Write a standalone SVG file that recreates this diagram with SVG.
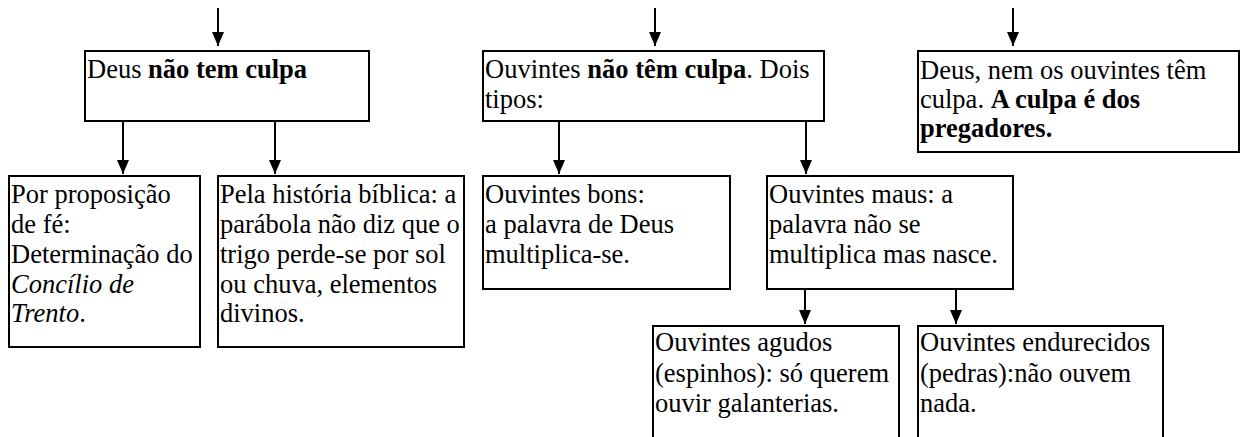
<svg xmlns="http://www.w3.org/2000/svg" width="1241" height="437" viewBox="0 0 1241 437">
<style>
  .box { fill: #fff; stroke: #000; stroke-width: 2; }
  .t { font-family: "Liberation Serif", serif; font-size: 26.5px; fill: #000; }
  .b { font-weight: bold; }
  .i { font-style: italic; }
  .c { stroke: #000; stroke-width: 2; fill: none; marker-end: url(#ah); }
</style>
<defs>
  <marker id="ah" viewBox="0 0 14 12" refX="14" refY="6" markerWidth="14" markerHeight="12" markerUnits="userSpaceOnUse" orient="auto">
    <path d="M0,0 L14,6 L0,12 z" fill="#000"/>
  </marker>
</defs>
<g id="connectors">
  <line class="c" x1="218" y1="8" x2="218" y2="46"/>
  <line class="c" x1="655" y1="8" x2="655" y2="46"/>
  <line class="c" x1="1013" y1="8" x2="1013" y2="46"/>
  <line class="c" x1="123" y1="121" x2="123" y2="174"/>
  <line class="c" x1="275" y1="121" x2="275" y2="174"/>
  <line class="c" x1="559" y1="121" x2="559" y2="174"/>
  <line class="c" x1="806" y1="121" x2="806" y2="174"/>
  <line class="c" x1="805" y1="289" x2="805" y2="324"/>
  <line class="c" x1="956" y1="289" x2="956" y2="324"/>
</g>
<g id="n-deus" font-family="Liberation Serif, serif">
  <rect class="box" x="85" y="51" width="284" height="70"/>
  <text class="t" x="87" y="78">Deus <tspan class="b">não tem culpa</tspan></text>
</g>
<g id="n-ouvintes" font-family="Liberation Serif, serif">
  <rect class="box" x="483" y="51" width="341" height="70"/>
  <text class="t" x="485" y="78">Ouvintes <tspan class="b">não têm culpa</tspan>. Dois</text>
  <text class="t" x="485" y="108">tipos:</text>
</g>
<g id="n-pregadores" font-family="Liberation Serif, serif">
  <rect class="box" x="918" y="51" width="321" height="101"/>
  <text class="t" x="920" y="79">Deus, nem os ouvintes têm</text>
  <text class="t" x="920" y="108">culpa. <tspan class="b">A culpa é dos</tspan></text>
  <text class="t b" x="920" y="137">pregadores.</text>
</g>
<g id="n-fe" font-family="Liberation Serif, serif">
  <rect class="box" x="9" y="176" width="191" height="171"/>
  <text class="t" x="11" y="203">Por proposição</text>
  <text class="t" x="11" y="233">de fé:</text>
  <text class="t" x="11" y="263">Determinação do</text>
  <text class="t i" x="11" y="292.5">Concílio de</text>
  <text class="t" x="11" y="322"><tspan class="i">Trento</tspan>.</text>
</g>
<g id="n-biblica" font-family="Liberation Serif, serif">
  <rect class="box" x="218" y="176" width="246" height="171"/>
  <text class="t" x="220" y="203">Pela história bíblica: a</text>
  <text class="t" x="220" y="233">parábola não diz que o</text>
  <text class="t" x="220" y="263">trigo perde-se por sol</text>
  <text class="t" x="220" y="292.5">ou chuva, elementos</text>
  <text class="t" x="220" y="322">divinos.</text>
</g>
<g id="n-bons" font-family="Liberation Serif, serif">
  <rect class="box" x="483" y="176" width="247" height="113"/>
  <text class="t" x="485" y="203">Ouvintes bons:</text>
  <text class="t" x="485" y="233">a palavra de Deus</text>
  <text class="t" x="485" y="263">multiplica-se.</text>
</g>
<g id="n-maus" font-family="Liberation Serif, serif">
  <rect class="box" x="767" y="176" width="246" height="113"/>
  <text class="t" x="769" y="203">Ouvintes maus: a</text>
  <text class="t" x="769" y="233">palavra não se</text>
  <text class="t" x="769" y="263">multiplica mas nasce.</text>
</g>
<g id="n-agudos" font-family="Liberation Serif, serif">
  <rect class="box" x="653" y="326" width="246" height="120"/>
  <text class="t" x="655" y="351">Ouvintes agudos</text>
  <text class="t" x="655" y="382">(espinhos): só querem</text>
  <text class="t" x="655" y="412">ouvir galanterias.</text>
</g>
<g id="n-endurecidos" font-family="Liberation Serif, serif">
  <rect class="box" x="918" y="326" width="245" height="120"/>
  <text class="t" x="920" y="351">Ouvintes endurecidos</text>
  <text class="t" x="920" y="382">(pedras):não ouvem</text>
  <text class="t" x="920" y="412">nada.</text>
</g>
</svg>
